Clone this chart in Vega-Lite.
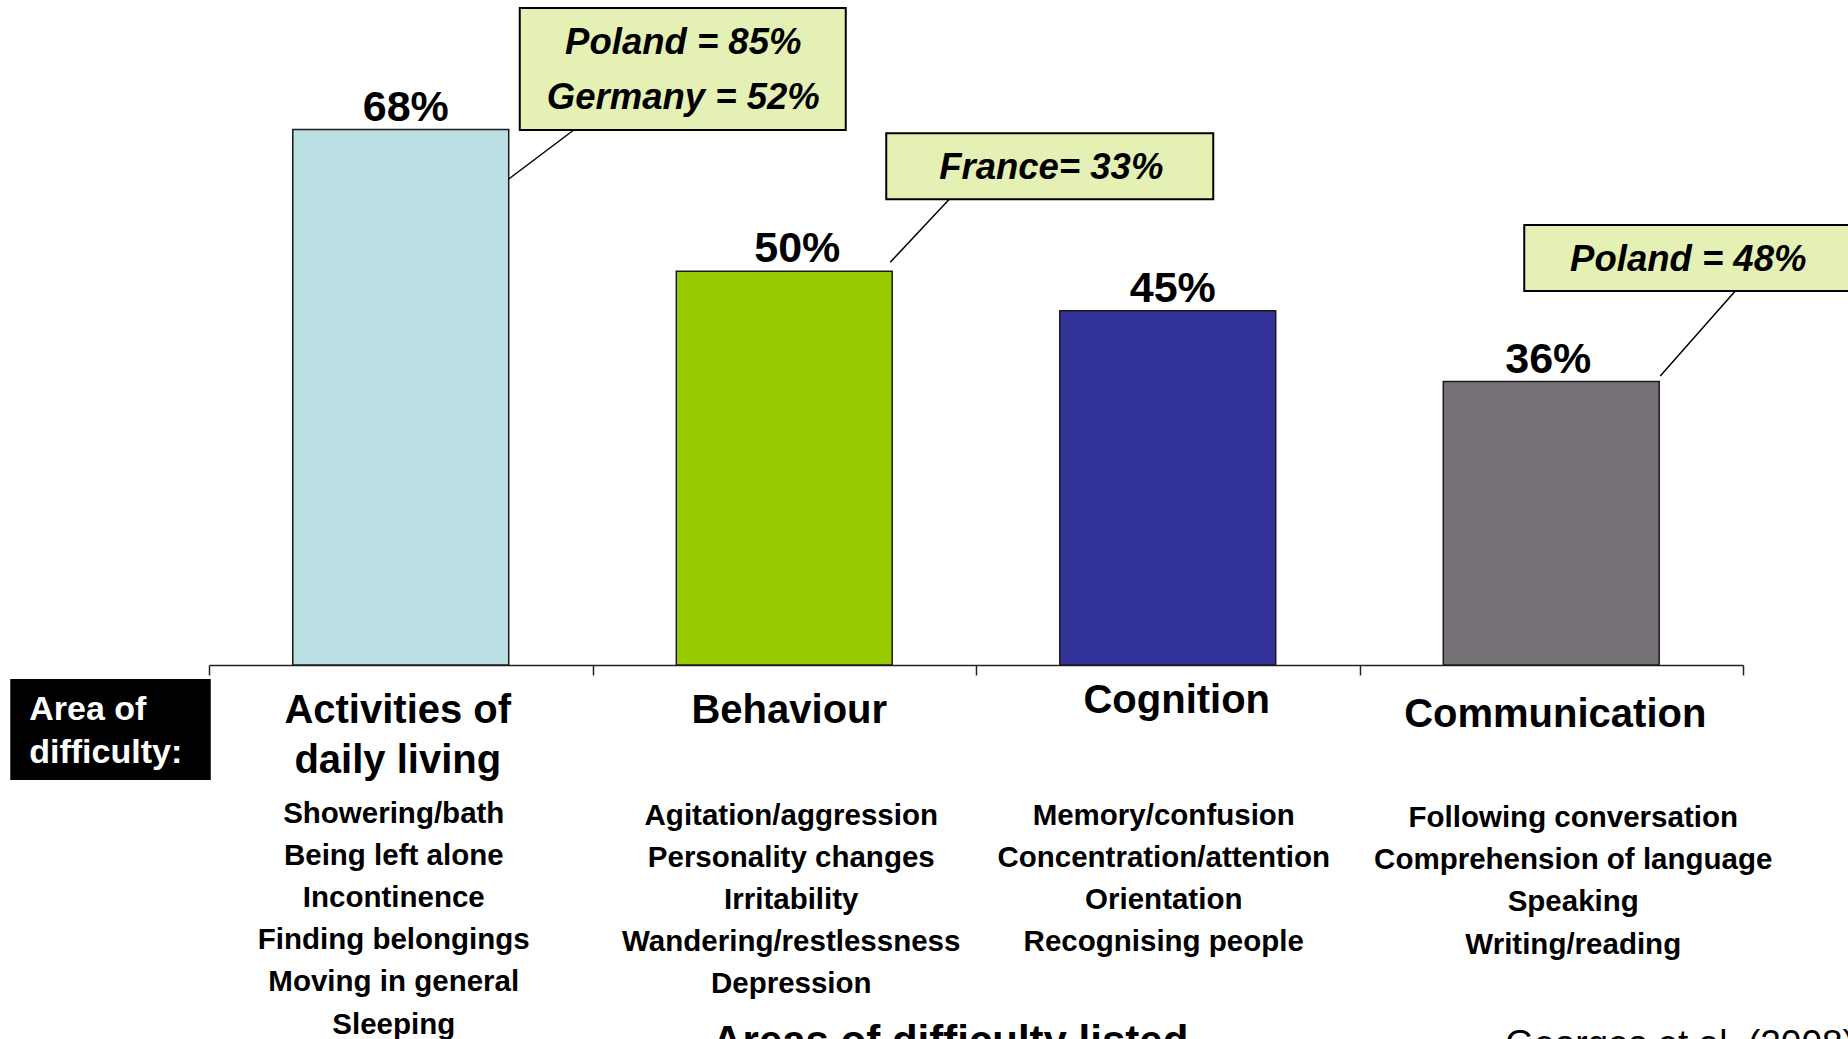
{
  "$schema": "https://vega.github.io/schema/vega-lite/v6.json",
  "width": 1534,
  "height": 630,
  "autosize": {"type": "none"},
  "padding": {"left": 209, "top": 35, "right": 105, "bottom": 374},
  "background": "white",
  "config": {"view": {"stroke": null}, "font": "Liberation Sans", "text": {"color": "#000", "fontWeight": "bold", "baseline": "alphabetic"}},
  "datasets": {
    "areas": [
      {"area": "Activities of daily living", "label": "Activities of\ndaily living", "share": 0.68, "items": "Showering/bath\nBeing left alone\nIncontinence\nFinding belongings\nMoving in general\nSleeping", "note": "Poland = 85%\nGermany = 52%"},
      {"area": "Behaviour", "label": "Behaviour", "share": 0.50, "items": "Agitation/aggression\nPersonality changes\nIrritability\nWandering/restlessness\nDepression", "note": "France= 33%"},
      {"area": "Cognition", "label": "Cognition", "share": 0.45, "items": "Memory/confusion\nConcentration/attention\nOrientation\nRecognising people"},
      {"area": "Communication", "label": "Communication", "share": 0.36, "items": "Following conversation\nComprehension of language\nSpeaking\nWriting/reading", "note": "Poland = 48%"}
    ],
    "texts": [
      {"role": "header", "text": "Area of\ndifficulty:"},
      {"role": "xtitle", "text": "Areas of difficulty listed"},
      {"role": "source", "text": "Georges et al. (2008)"}
    ]
  },
  "data": {"name": "areas"},
  "layer": [
    {
      "mark": {"type": "bar", "width": {"band": 0.563}, "stroke": "#1a1a1a", "strokeWidth": 1.5},
      "encoding": {
        "x": {
          "field": "area", "type": "nominal",
          "sort": ["Activities of daily living", "Behaviour", "Cognition", "Communication"],
          "scale": {"paddingInner": 0, "paddingOuter": 0},
          "axis": {"title": null, "labels": false, "grid": false, "tickBand": "extent", "domainColor": "#222", "domainWidth": 1.5, "tickColor": "#222", "tickWidth": 1.5, "tickSize": 10}
        },
        "y": {"field": "share", "type": "quantitative", "scale": {"domain": [0, 0.8], "nice": false}, "axis": null},
        "color": {
          "field": "area", "type": "nominal",
          "scale": {"domain": ["Activities of daily living", "Behaviour", "Cognition", "Communication"], "range": ["#BBE0E3", "#99CC00", "#333399", "#767077"]},
          "legend": null
        }
      }
    },
    {
      "transform": [{"filter": "datum.area == 'Activities of daily living'"}],
      "encoding": {"x": {"field": "area", "type": "nominal"}},
      "layer": [
        {"mark": {"type": "text", "dy": -9, "dx": 5, "fontSize": 43},
         "encoding": {"y": {"field": "share", "type": "quantitative"}, "text": {"field": "share", "type": "quantitative", "format": ".0%"}}},
        {"mark": {"type": "text", "dy": 57.5, "dx": -3, "fontSize": 40, "lineBreak": "\n", "lineHeight": 50},
         "encoding": {"y": {"datum": 0}, "text": {"field": "label"}}},
        {"mark": {"type": "text", "dy": 157.5, "dx": -7, "fontSize": 29.5, "lineBreak": "\n", "lineHeight": 42.2},
         "encoding": {"y": {"datum": 0}, "text": {"field": "items"}}}
      ]
    },
    {
      "transform": [{"filter": "datum.area == 'Behaviour'"}],
      "encoding": {"x": {"field": "area", "type": "nominal"}},
      "layer": [
        {"mark": {"type": "text", "dy": -9, "dx": 13, "fontSize": 43},
         "encoding": {"y": {"field": "share", "type": "quantitative"}, "text": {"field": "share", "type": "quantitative", "format": ".0%"}}},
        {"mark": {"type": "text", "dy": 57.5, "dx": 5, "fontSize": 40},
         "encoding": {"y": {"datum": 0}, "text": {"field": "label"}}},
        {"mark": {"type": "text", "dy": 159.5, "dx": 7, "fontSize": 29.5, "lineBreak": "\n", "lineHeight": 42.2},
         "encoding": {"y": {"datum": 0}, "text": {"field": "items"}}}
      ]
    },
    {
      "transform": [{"filter": "datum.area == 'Cognition'"}],
      "encoding": {"x": {"field": "area", "type": "nominal"}},
      "layer": [
        {"mark": {"type": "text", "dy": -9, "dx": 5, "fontSize": 43},
         "encoding": {"y": {"field": "share", "type": "quantitative"}, "text": {"field": "share", "type": "quantitative", "format": ".0%"}}},
        {"mark": {"type": "text", "dy": 48, "dx": 9, "fontSize": 40},
         "encoding": {"y": {"datum": 0}, "text": {"field": "label"}}},
        {"mark": {"type": "text", "dy": 159.5, "dx": -4, "fontSize": 29.5, "lineBreak": "\n", "lineHeight": 42.2},
         "encoding": {"y": {"datum": 0}, "text": {"field": "items"}}}
      ]
    },
    {
      "transform": [{"filter": "datum.area == 'Communication'"}],
      "encoding": {"x": {"field": "area", "type": "nominal"}},
      "layer": [
        {"mark": {"type": "text", "dy": -9, "dx": -3, "fontSize": 43},
         "encoding": {"y": {"field": "share", "type": "quantitative"}, "text": {"field": "share", "type": "quantitative", "format": ".0%"}}},
        {"mark": {"type": "text", "dy": 62, "dx": 4, "fontSize": 40},
         "encoding": {"y": {"datum": 0}, "text": {"field": "label"}}},
        {"mark": {"type": "text", "dy": 162, "dx": 22, "fontSize": 29.5, "lineBreak": "\n", "lineHeight": 42.2},
         "encoding": {"y": {"datum": 0}, "text": {"field": "items"}}}
      ]
    },
    {
      "transform": [{"filter": "datum.area == 'Activities of daily living'"}],
      "layer": [
        {
          "mark": {"type": "rule", "color": "#000", "strokeWidth": 1.5, "xOffset": 108, "x2Offset": 173, "yOffset": 49.5, "y2Offset": 0.5},
          "encoding": {"x": {"field": "area", "type": "nominal", "bandPosition": 0.5}, "x2": {"field": "area", "bandPosition": 0.5}, "y": {"field": "share", "type": "quantitative"}, "y2": {"field": "share"}}
        },
        {
          "mark": {"type": "rect", "fill": "#E5F0B5", "stroke": "#000", "strokeWidth": 2, "xOffset": 119, "x2Offset": 445, "yOffset": -121.5, "y2Offset": 0.5},
          "encoding": {"x": {"field": "area", "type": "nominal", "bandPosition": 0.5}, "x2": {"field": "area", "bandPosition": 0.5}, "y": {"field": "share", "type": "quantitative"}, "y2": {"field": "share"}}
        },
        {
          "mark": {"type": "text", "dx": 282.5, "dy": -75.2, "fontSize": 36.5, "fontStyle": "italic", "lineBreak": "\n", "lineHeight": 55},
          "encoding": {"x": {"field": "area", "type": "nominal"}, "y": {"field": "share", "type": "quantitative"}, "text": {"field": "note"}}
        }
      ]
    },
    {
      "transform": [{"filter": "datum.area == 'Behaviour'"}],
      "layer": [
        {
          "mark": {"type": "rule", "color": "#000", "strokeWidth": 1.5, "xOffset": 106, "x2Offset": 165, "yOffset": -9, "y2Offset": -72},
          "encoding": {"x": {"field": "area", "type": "nominal", "bandPosition": 0.5}, "x2": {"field": "area", "bandPosition": 0.5}, "y": {"field": "share", "type": "quantitative"}, "y2": {"field": "share"}}
        },
        {
          "mark": {"type": "rect", "fill": "#E5F0B5", "stroke": "#000", "strokeWidth": 2, "xOffset": 102, "x2Offset": 429, "yOffset": -138, "y2Offset": -72},
          "encoding": {"x": {"field": "area", "type": "nominal", "bandPosition": 0.5}, "x2": {"field": "area", "bandPosition": 0.5}, "y": {"field": "share", "type": "quantitative"}, "y2": {"field": "share"}}
        },
        {
          "mark": {"type": "text", "dx": 267, "dy": -92, "fontSize": 36.5, "fontStyle": "italic"},
          "encoding": {"x": {"field": "area", "type": "nominal"}, "y": {"field": "share", "type": "quantitative"}, "text": {"field": "note"}}
        }
      ]
    },
    {
      "transform": [{"filter": "datum.area == 'Communication'"}],
      "layer": [
        {
          "mark": {"type": "rule", "color": "#000", "strokeWidth": 1.5, "xOffset": 109, "x2Offset": 184, "yOffset": -5.5, "y2Offset": -90.5},
          "encoding": {"x": {"field": "area", "type": "nominal", "bandPosition": 0.5}, "x2": {"field": "area", "bandPosition": 0.5}, "y": {"field": "share", "type": "quantitative"}, "y2": {"field": "share"}}
        },
        {
          "mark": {"type": "rect", "fill": "#E5F0B5", "stroke": "#000", "strokeWidth": 2, "xOffset": -27, "x2Offset": 320, "yOffset": -156.5, "y2Offset": -90.5},
          "encoding": {"x": {"field": "area", "type": "nominal", "bandPosition": 0.5}, "x2": {"field": "area", "bandPosition": 0.5}, "y": {"field": "share", "type": "quantitative"}, "y2": {"field": "share"}}
        },
        {
          "mark": {"type": "text", "dx": 137, "dy": -110.5, "fontSize": 36.5, "fontStyle": "italic"},
          "encoding": {"x": {"field": "area", "type": "nominal"}, "y": {"field": "share", "type": "quantitative"}, "text": {"field": "note"}}
        }
      ]
    },
    {
      "data": {"name": "texts"},
      "transform": [{"filter": "datum.role == 'header'"}],
      "layer": [
        {
          "mark": {"type": "rect", "fill": "#000", "xOffset": -390.5, "x2Offset": -190, "yOffset": 14, "y2Offset": 115},
          "encoding": {"x": {"datum": "Activities of daily living"}, "x2": {"datum": "Activities of daily living"}, "y": {"datum": 0}, "y2": {"datum": 0}}
        },
        {
          "mark": {"type": "text", "align": "left", "dx": -371.5, "dy": 55, "fontSize": 34, "lineBreak": "\n", "lineHeight": 43, "color": "#fff"},
          "encoding": {"x": {"datum": "Activities of daily living"}, "y": {"datum": 0}, "text": {"field": "text"}}
        }
      ]
    },
    {
      "data": {"name": "texts"},
      "transform": [{"filter": "datum.role == 'xtitle'"}],
      "mark": {"type": "text", "dx": 166, "dy": 390, "fontSize": 42},
      "encoding": {"x": {"datum": "Behaviour"}, "y": {"datum": 0}, "text": {"field": "text"}}
    },
    {
      "data": {"name": "texts"},
      "transform": [{"filter": "datum.role == 'source'"}],
      "mark": {"type": "text", "align": "left", "dx": -46, "dy": 391, "fontSize": 37, "fontWeight": "normal"},
      "encoding": {"x": {"datum": "Communication"}, "y": {"datum": 0}, "text": {"field": "text"}}
    }
  ]
}
